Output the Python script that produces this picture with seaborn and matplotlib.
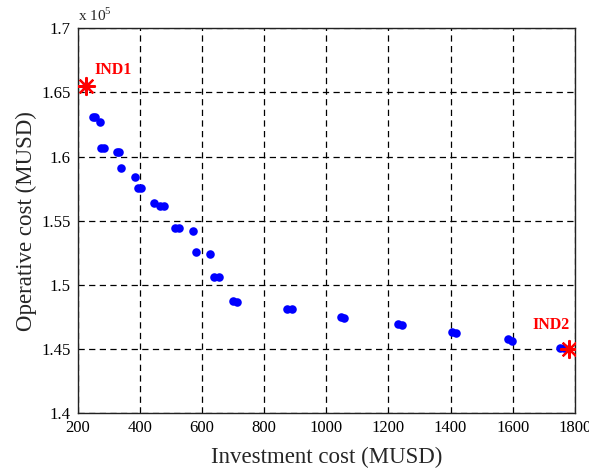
import matplotlib
matplotlib.use("Agg")
import matplotlib.pyplot as plt
import seaborn as sns
import pandas as pd

# Investment cost (MUSD) and operative cost (x 1e5 MUSD) of Pareto solutions
invest = [226, 248, 254, 273, 276, 284, 326, 334, 339, 385, 393, 403, 445, 466, 477,
          512, 526, 571, 579, 627, 638, 654, 700, 711, 872, 891, 1047, 1058,
          1232, 1243, 1404, 1417, 1586, 1599, 1752, 1765]
operative = [1.6549, 1.6306, 1.6306, 1.6267, 1.6065, 1.6065, 1.6036, 1.6033, 1.5909,
             1.5839, 1.5758, 1.5758, 1.5637, 1.5611, 1.5611, 1.5442, 1.5442, 1.5416,
             1.5253, 1.5237, 1.5061, 1.5058, 1.4872, 1.4864, 1.4813, 1.4813,
             1.4750, 1.4740, 1.4691, 1.4683, 1.4631, 1.4621, 1.4574, 1.4561,
             1.4506, 1.4506]

# Extreme individuals
ind_names = ["IND1", "IND2"]
ind_invest = [226, 1781]
ind_operative = [1.6549, 1.4502]

x_ticks = [200, 400, 600, 800, 1000, 1200, 1400, 1600, 1800]
y_ticks = [1.4, 1.45, 1.5, 1.55, 1.6, 1.65, 1.7]
y_tick_labels = ["1.4", "1.45", "1.5", "1.55", "1.6", "1.65", "1.7"]

sns.set_style("white")
plt.rcParams["font.family"] = ["Liberation Serif", "DejaVu Serif"]
plt.rcParams["mathtext.fontset"] = "custom"
plt.rcParams["mathtext.rm"] = "Liberation Serif"

fig = plt.figure(figsize=(5.89, 4.70), dpi=100)
ax = fig.add_axes([0.132, 0.121, 0.844, 0.819])

df = pd.DataFrame({"invest": invest, "operative": operative})
sns.scatterplot(data=df, x="invest", y="operative", ax=ax, color="#0000ff",
                s=38, linewidth=0, zorder=3)

ind_df = pd.DataFrame({"invest": ind_invest, "operative": ind_operative, "name": ind_names})
sns.scatterplot(data=ind_df, x="invest", y="operative", ax=ax, marker=(8, 2, 0),
                color="red", s=150, linewidth=1.6, edgecolor="red", zorder=4)

ax.text(ind_invest[0] + 29, ind_operative[0] + 0.006, ind_names[0], color="red",
        fontsize=11.5, fontweight="bold", ha="left", va="bottom")
ax.text(ind_invest[1] - 116, ind_operative[1] + 0.0125, ind_names[1], color="red",
        fontsize=11.5, fontweight="bold", ha="left", va="bottom")

ax.set_xlim(200, 1800)
ax.set_ylim(1.4, 1.7)
ax.set_xticks(x_ticks)
ax.set_xticklabels([str(t) for t in x_ticks])
ax.set_yticks(y_ticks)
ax.set_yticklabels(y_tick_labels)
ax.tick_params(axis="both", labelsize=12, direction="in", length=4, pad=5,
               colors="black")
ax.grid(True, color="black", linestyle=(0, (5, 3.5)), linewidth=0.9)
for sp in ax.spines.values():
    sp.set_color("#222222")
    sp.set_linewidth(1.0)
    sp.set_visible(True)

ax.set_xlabel("Investment cost (MUSD)", fontsize=16.5, labelpad=8)
ax.set_ylabel("Operative cost (MUSD)", fontsize=16.5, labelpad=3)
ax.text(0.0, 1.012, r"x 10$^{\mathregular{5}}$", transform=ax.transAxes,
        fontsize=11, ha="left", va="bottom")

fig.savefig("out.png", dpi=100)
